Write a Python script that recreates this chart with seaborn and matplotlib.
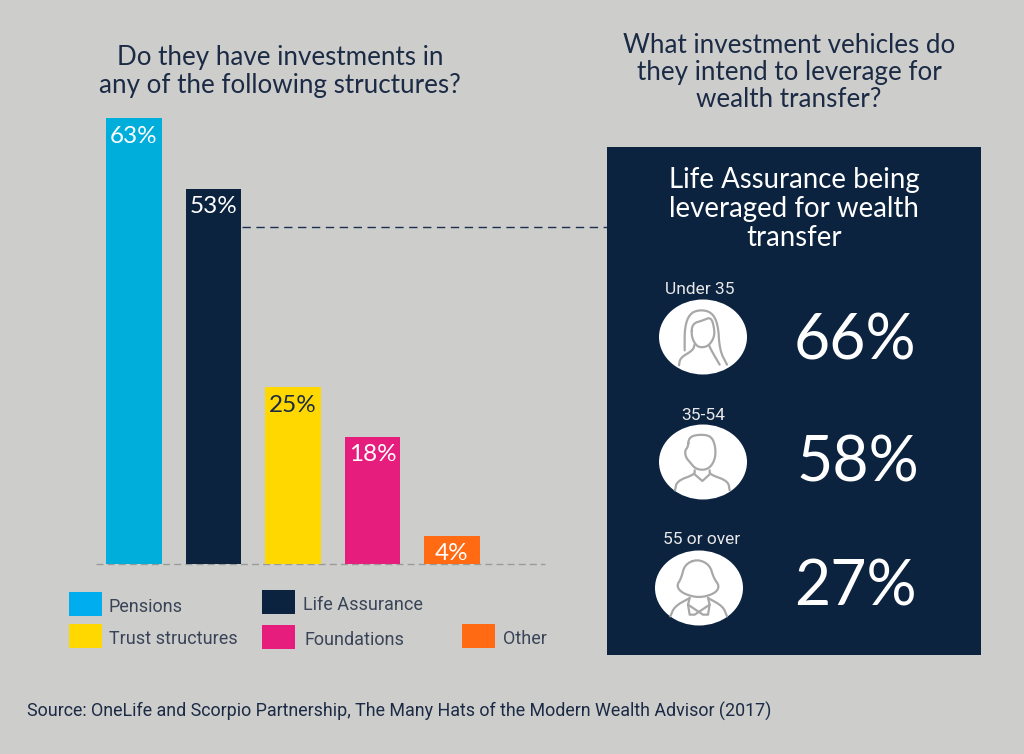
import matplotlib
matplotlib.use("Agg")
import matplotlib.pyplot as plt
from matplotlib.patches import Ellipse, Rectangle
import numpy as np
import pandas as pd
import seaborn as sns

# Data
categories = ["Pensions", "Life Assurance", "Trust structures", "Foundations", "Other"]
values = [63, 53, 25, 18, 4]
colors = ["#00aedb", "#0c2340", "#ffd800", "#e61d7c", "#ff6a13"]
legend_colors = ["#00adef", "#0c2340", "#ffd800", "#e61d7c", "#ff6a13"]
label_colors = ["white", "white", "#1c2b45", "white", "white"]
age_groups = ["Under 35", "35-54", "55 or over"]
age_values = [66, 58, 27]

BG = "#cdcdcb"
NAVY = "#0c2340"
W, H = 1024, 754
TITLE_FONT = "Lato"
DIN_FONT = "Roboto"

sns.set_theme(style="white", rc={"font.family": TITLE_FONT})
fig = plt.figure(figsize=(W / 100, H / 100), dpi=100, facecolor=BG)

# Bar axes: spans baseline y=564 to top y=118
ax = fig.add_axes([94.25 / W, 1 - 564 / H, 397.5 / W, 446 / H], facecolor="none")
df = pd.DataFrame({"cat": categories, "val": values})
sns.barplot(data=df, x="cat", y="val", hue="cat", palette=colors, dodge=False,
            legend=False, width=0.704, saturation=1, linewidth=0, ax=ax)
ax.set_xlim(-0.5, 4.5)
ax.set_ylim(0, 63)
ax.axis("off")
for i, (v, c) in enumerate(zip(values, label_colors)):
    ax.annotate(f"{v}%", (i, v), xytext=(0, -5.5), textcoords="offset points",
                ha="center", va="top", fontsize=17.5, color=c, clip_on=False)

# Overlay in pixel coordinates
ov = fig.add_axes([0, 0, 1, 1], facecolor="none", zorder=-1)
ov.set_xlim(0, W)
ov.set_ylim(H, 0)
ov.axis("off")
ov2 = fig.add_axes([0, 0, 1, 1], facecolor="none", zorder=5)
ov2.set_xlim(0, W)
ov2.set_ylim(H, 0)
ov2.axis("off")

ov.plot([96, 545], [564, 564], color="#9a9a9a", lw=1, dashes=(5, 3))
ov.plot([242, 607], [227, 227], color="#1c2f4d", lw=1, dashes=(6, 4))

# Titles
ov2.text(280, 71.5, "Do they have investments in\nany of the following structures?", ha="center",
         va="center", fontsize=18.7, color="#1c2b45", linespacing=1.18)
ov2.text(789, 72.5, "What investment vehicles do\nthey intend to leverage for\nwealth transfer?",
         ha="center", va="center", fontsize=18.7, color="#1c2b45", linespacing=1.12)

# Panel
ov2.add_patch(Rectangle((607, 147), 374, 508, color=NAVY, lw=0))
ov2.text(794, 209, "Life Assurance being\nleveraged for wealth\ntransfer", ha="center",
         va="center", fontsize=19.9, color="white", linespacing=1.15)


def smooth(pts, n=3, closed=False):
    p = np.array(pts, float)
    for _ in range(n):
        if closed:
            q = np.roll(p, -1, axis=0)
            out = np.empty((2 * len(p), 2))
            out[0::2] = 0.75 * p + 0.25 * q
            out[1::2] = 0.25 * p + 0.75 * q
            p = out
        else:
            a, b = p[:-1], p[1:]
            mid = np.empty((2 * len(a), 2))
            mid[0::2] = 0.75 * a + 0.25 * b
            mid[1::2] = 0.25 * a + 0.75 * b
            p = np.vstack([p[0], mid, p[-1]])
    return p


def stroke(cx, cy, zc, pts, closed=False, sm=2):
    p = smooth(pts, sm, closed)
    if closed:
        p = np.vstack([p, p[0]])
    x = cx + (p[:, 0] - zc[0]) / 3
    y = cy + (p[:, 1] - zc[1]) / 3
    ov2.plot(x, y, color="#a8a8a8", lw=1.6, solid_capstyle="round", zorder=7)


icons = [(703, 337, 44, 37.5), (703, 462, 44, 37.5), (699, 588, 44, 37.5)]
for (cx, cy, rx, ry) in icons:
    ov2.add_patch(Ellipse((cx, cy), 2 * rx, 2 * ry, color="white", lw=0, zorder=6))

# Young woman
c, z = icons[0], (190, 200)
stroke(c[0], c[1], z, [(135, 240), (135, 170), (150, 130), (180, 118), (215, 125), (235, 160), (240, 240), (262, 283)])
stroke(c[0], c[1], z, [(155, 195), (158, 160), (190, 150), (215, 140), (225, 180), (222, 205), (205, 228), (180, 232), (165, 220)], closed=True)
stroke(c[0], c[1], z, [(118, 285), (122, 262), (160, 240), (165, 222)])
stroke(c[0], c[1], z, [(240, 283), (215, 240), (208, 225)])

# Man
c, z = icons[1], (190, 575)
stroke(c[0], c[1], z, [(145, 530), (148, 500), (180, 492), (215, 497), (228, 530), (226, 570), (205, 598), (170, 598), (150, 575), (138, 560), (136, 540)], closed=True)
stroke(c[0], c[1], z, [(165, 600), (165, 612), (112, 632), (106, 660)])
stroke(c[0], c[1], z, [(210, 600), (210, 612), (265, 632), (270, 660)])
stroke(c[0], c[1], z, [(165, 612), (188, 632), (210, 612)], sm=0)

# Older woman
c, z = icons[2], (178, 955)
stroke(c[0], c[1], z, [(172, 868), (135, 885), (125, 925), (110, 950), (130, 972), (178, 985), (225, 972), (240, 950), (222, 925), (210, 885)], closed=True)
stroke(c[0], c[1], z, [(150, 985), (105, 1010), (92, 1040)])
stroke(c[0], c[1], z, [(205, 985), (250, 1010), (262, 1040)])
stroke(c[0], c[1], z, [(150, 985), (145, 1005), (190, 1035), (205, 1035), (210, 1005), (205, 985)], sm=0)
stroke(c[0], c[1], z, [(145, 1005), (150, 1035), (165, 1035), (210, 1005)], sm=0)

# Age labels and percentages
label_pos = [(700, 289), (703, 415), (702, 540)]
val_pos = [(855, 341), (858, 463), (855, 588)]
for g, lp in zip(age_groups, label_pos):
    ov2.text(lp[0], lp[1], g, ha="center", va="center", fontsize=12.5, color="#e8e8e8",
             family=DIN_FONT)
for v, vp in zip(age_values, val_pos):
    ov2.text(vp[0], vp[1], f"{v}%", ha="center", va="center", fontsize=45, color="white")

# Legend
legend_boxes = [(69, 592), (262, 590), (69, 624), (262, 625), (462, 624)]
legend_text = [(109, 607), (303, 605), (109, 639), (304, 640), (503, 639)]
for col, (bx, by), (tx, ty), name in zip(legend_colors, legend_boxes, legend_text, categories):
    ov2.add_patch(Rectangle((bx, by), 33, 24, color=col, lw=0))
    ov2.text(tx, ty, name, ha="left", va="center", fontsize=13, color="#3a4458", family=DIN_FONT)

# Source
ov2.text(27, 711, "Source: OneLife and Scorpio Partnership, The Many Hats of the Modern Wealth Advisor (2017)",
         ha="left", va="center", fontsize=12.85, color="#1c2b45", family=DIN_FONT)

fig.savefig("out.png", dpi=100, facecolor=BG)
